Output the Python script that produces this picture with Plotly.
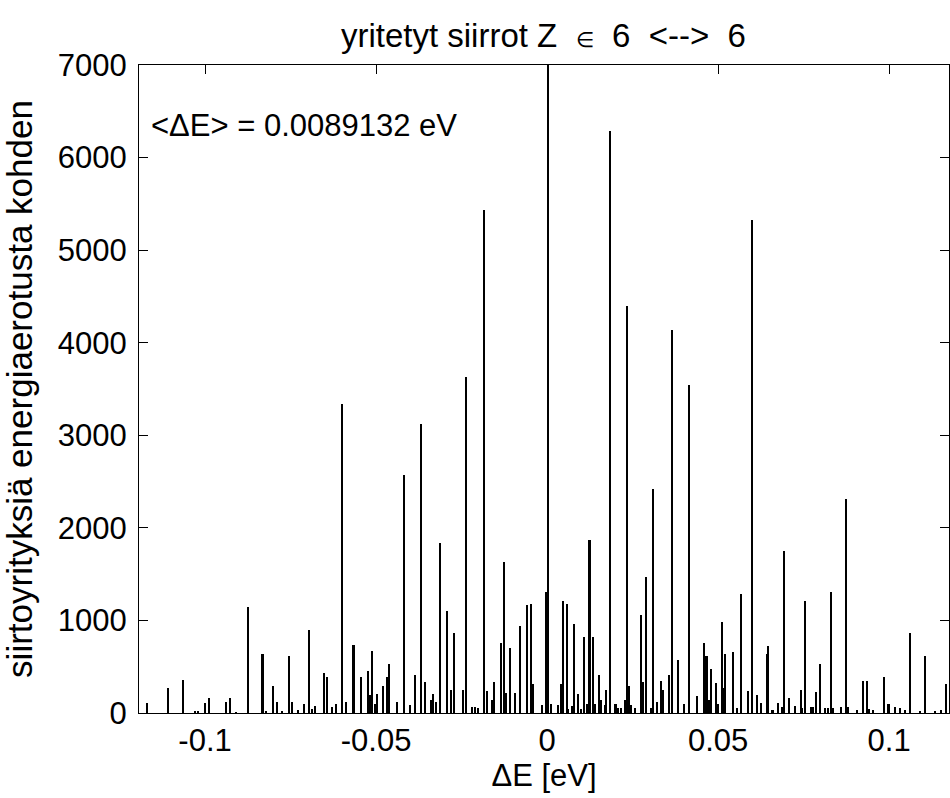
import plotly.graph_objects as go

# energy differences (bin centres, eV) and counts
delta_e = [
    -0.1169, -0.1108, -0.1063, -0.1030, -0.1020, -0.0999, -0.0988, -0.0938, -0.0926, -0.0910,
    -0.0875, -0.0832, -0.0821, -0.0800, -0.0789, -0.0775, -0.0754, -0.0745, -0.0728, -0.0711,
    -0.0695, -0.0688, -0.0678, -0.0652, -0.0644, -0.0629, -0.0617, -0.0600,
    -0.0588, -0.0566, -0.0545, -0.0523, -0.0519, -0.0512, -0.0504, -0.0496, -0.0479, -0.0467,
    -0.0461, -0.0439, -0.0417, -0.0401, -0.0385, -0.0368, -0.0356, -0.0340, -0.0334, -0.0325,
    -0.0313, -0.0292, -0.0280, -0.0273, -0.0245, -0.0237, -0.0219, -0.0211, -0.0202, -0.0185,
    -0.0175, -0.0162, -0.0154, -0.0135, -0.0126, -0.0120, -0.0108, -0.0093, -0.0079, -0.0059,
    -0.0048, -0.0042, -0.0015, -0.0004, 0.0002,
    0.0012, 0.0033, 0.0040, 0.0046, 0.0058, 0.0062, 0.0074, 0.0079, 0.0090, 0.0099,
    0.0107, 0.0118, 0.0124, 0.0135, 0.0140, 0.0152, 0.0157, 0.0168, 0.0173, 0.0184,
    0.0200, 0.0208, 0.0216, 0.0228, 0.0234, 0.0240, 0.0246, 0.0257, 0.0274, 0.0279,
    0.0289, 0.0305, 0.0310, 0.0322, 0.0333, 0.0338, 0.0356, 0.0366, 0.0384, 0.0400,
    0.0416, 0.0439, 0.0460, 0.0466, 0.0472, 0.0478, 0.0493, 0.0499, 0.0511, 0.0516,
    0.0521, 0.0544, 0.0555, 0.0566, 0.0588,
    0.0599, 0.0614, 0.0626, 0.0642, 0.0647, 0.0659, 0.0675, 0.0686, 0.0692, 0.0708,
    0.0725, 0.0742, 0.0746, 0.0754, 0.0771, 0.0776, 0.0786, 0.0797, 0.0813, 0.0821,
    0.0830, 0.0836, 0.0858, 0.0875, 0.0881, 0.0906, 0.0923, 0.0936, 0.0941, 0.0954,
    0.0985, 0.0996, 0.1018, 0.1031, 0.1047, 0.1062, 0.1091, 0.1106, 0.1135, 0.1152,
    0.1167,
]
counts = [
    109, 267, 353, 20, 20, 109, 167, 122, 167, 10,
    1140, 633, 20, 290, 122, 20, 615, 122, 30, 100,
    896, 40, 80, 434, 389, 63, 100, 3335,
    122, 738, 389, 452, 190, 670, 100, 208, 290, 389,
    525, 122, 2566, 86, 407, 3118, 330, 145, 208, 122,
    1833, 1104, 244, 864, 244, 3629, 60, 60, 50, 5439,
    235, 145, 330, 756, 1633, 213, 697, 213, 941, 1163,
    1181, 308, 86, 1303, 7000,
    100, 90, 308, 1208, 1181, 40, 80, 959, 208, 40,
    819, 100, 1873, 819, 100, 407, 145, 90, 244, 6290,
    100, 50, 50, 145, 4398, 290, 90, 50, 1059, 330,
    1466, 50, 2425, 122, 348, 249, 407, 4136, 575, 100,
    3548, 181, 756, 615, 145, 471, 326, 100, 982, 271,
    633, 656, 50, 1285, 235,
    5330, 190, 109, 633, 719, 30, 109, 60, 1747, 167,
    80, 249, 50, 1208, 60, 60, 226, 534, 50, 50,
    1303, 50, 60, 2308, 60, 30, 348, 348, 40, 30,
    389, 100, 60, 50, 30, 860, 20, 615, 20, 30,
    308,
]

x_ticks = [-0.1, -0.05, 0, 0.05, 0.1]
x_tick_text = ["-0.1", "-0.05", "0", "0.05", "0.1"]
y_ticks = [0, 1000, 2000, 3000, 4000, 5000, 6000, 7000]

FONT = "Liberation Sans, Arial, sans-serif"

fig = go.Figure(
    go.Bar(
        x=delta_e,
        y=counts,
        width=0.0006,
        marker=dict(color="black", line=dict(width=0)),
        showlegend=False,
    )
)

fig.update_layout(
    width=950,
    height=798,
    margin=dict(l=139, r=1, t=65, b=85),
    paper_bgcolor="white",
    plot_bgcolor="white",
    font=dict(family=FONT, size=31, color="black"),
    title=dict(
        text=("yritetyt siirrot Z&nbsp;&nbsp;<span style='font-size:21px'>∈</span>&nbsp;&nbsp;6"
              "&nbsp;&nbsp;&lt;--&gt;&nbsp;&nbsp;6"),
        x=0.572,
        xanchor="center",
        y=0.955,
        yanchor="middle",
        font=dict(family=FONT, size=33, color="black"),
    ),
    bargap=0,
)

fig.update_xaxes(
    range=[-0.1193, 0.1175],
    tickvals=x_ticks,
    ticktext=x_tick_text,
    ticks="inside",
    ticklen=9,
    tickcolor="black",
    showline=True,
    linecolor="black",
    linewidth=1,
    mirror="ticks",
    showgrid=False,
    zeroline=False,
    title=dict(text="ΔE [eV]", standoff=6, font=dict(size=31)),
    tickfont=dict(size=31),
)
fig.update_yaxes(
    range=[0, 7000],
    tickvals=y_ticks,
    ticks="inside",
    ticklen=9,
    tickcolor="black",
    showline=True,
    linecolor="black",
    linewidth=1,
    mirror="ticks",
    showgrid=False,
    zeroline=False,
    ticklabelstandoff=5,
    title=dict(text="siirtoyrityksiä energiaerotusta kohden", standoff=14, font=dict(size=35)),
    tickfont=dict(size=31),
)

fig.add_annotation(
    x=0.012,
    y=0.907,
    xref="paper",
    yref="paper",
    text="&lt;ΔE&gt; = 0.0089132 eV",
    showarrow=False,
    xanchor="left",
    yanchor="middle",
    font=dict(family=FONT, size=31, color="black"),
)

fig.write_html("out.html")
